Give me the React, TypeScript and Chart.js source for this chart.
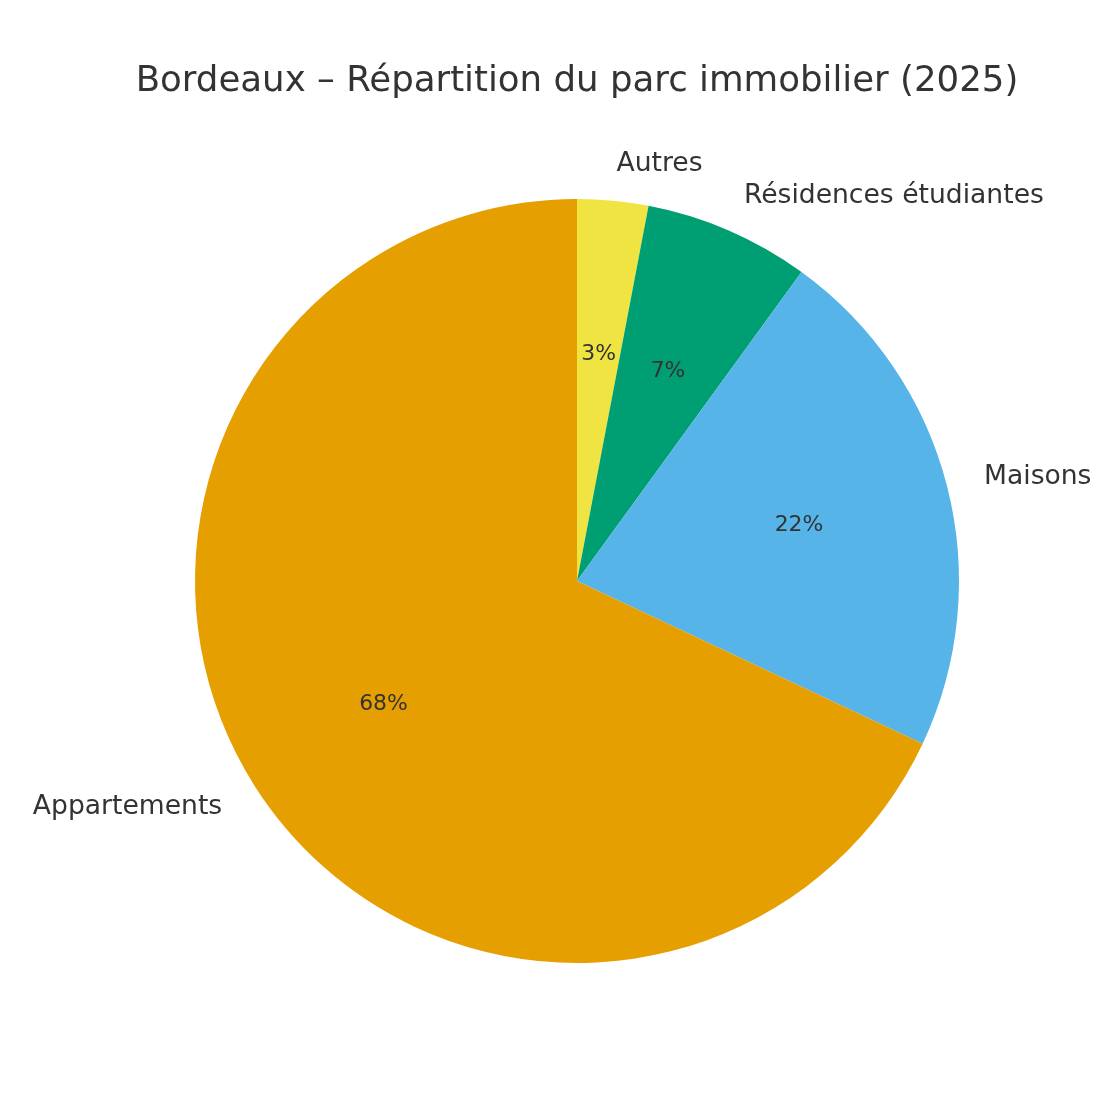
import { useEffect, useRef } from 'react';
import { Chart, registerables } from 'chart.js';

Chart.register(...registerables);

const TITLE = 'Bordeaux – Répartition du parc immobilier (2025)';
const CATEGORIES = ['Autres', 'Résidences étudiantes', 'Maisons', 'Appartements'];
const SHARES = [3, 7, 22, 68];
const COLORS = ['#F0E442', '#009E73', '#56B4E9', '#E69F00'];

const FONT = '"DejaVu Sans", sans-serif';
const TEXT = '#333333';

// draws title, outer category labels (1.1 r) and percentages (0.6 r), like matplotlib
const pieLabels = {
  id: 'pieLabels',
  afterDraw(chart: any) {
    const { ctx } = chart;
    const meta = chart.getDatasetMeta(0);
    const total = SHARES.reduce((a, b) => a + b, 0);
    ctx.save();
    ctx.fillStyle = TEXT;

    ctx.font = `35.6px ${FONT}`;
    ctx.textAlign = 'center';
    ctx.textBaseline = 'middle';
    ctx.fillText(TITLE, 577, 82);

    meta.data.forEach((arc: any, i: number) => {
      const mid = (arc.startAngle + arc.endAngle) / 2;
      const r = arc.outerRadius;
      const cx = arc.x;
      const cy = arc.y;

      const lx = cx + Math.cos(mid) * r * 1.1;
      const ly = cy + Math.sin(mid) * r * 1.1 + 1;
      ctx.font = `26.6px ${FONT}`;
      ctx.textAlign = Math.cos(mid) >= 0 ? 'left' : 'right';
      ctx.fillText(CATEGORIES[i], lx, ly);

      const px = cx + Math.cos(mid) * r * 0.6;
      const py = cy + Math.sin(mid) * r * 0.6 + 1;
      ctx.font = `21.9px ${FONT}`;
      ctx.textAlign = 'center';
      ctx.fillText(`${Math.round((SHARES[i] / total) * 100)}%`, px, py);
    });
    ctx.restore();
  },
};

export default function App() {
  const canvasRef = useRef<HTMLCanvasElement>(null);
  const chartRef = useRef<Chart | null>(null);

  useEffect(() => {
    if (!canvasRef.current) return;
    const ctx = canvasRef.current.getContext('2d');
    if (!ctx) return;

    if (chartRef.current) chartRef.current.destroy();

    chartRef.current = new Chart(ctx, {
      type: 'pie',
      data: {
        labels: CATEGORIES,
        datasets: [
          {
            data: SHARES,
            backgroundColor: COLORS,
            borderWidth: 0,
          },
        ],
      },
      options: {
        responsive: false,
        animation: false,
        layout: {
          padding: { left: 195, right: 161, top: 199, bottom: 157 },
        },
        plugins: {
          legend: { display: false },
          tooltip: { enabled: false },
          title: { display: false },
        },
      },
      plugins: [pieLabels],
    });

    return () => {
      if (chartRef.current) {
        chartRef.current.destroy();
        chartRef.current = null;
      }
    };
  }, []);

  return (
    <div style={{ position: 'absolute', top: 0, left: 0, width: 1120, height: 1120, background: '#fff' }}>
      <canvas ref={canvasRef} width={1120} height={1120} style={{ display: 'block' }}></canvas>
    </div>
  );
}
